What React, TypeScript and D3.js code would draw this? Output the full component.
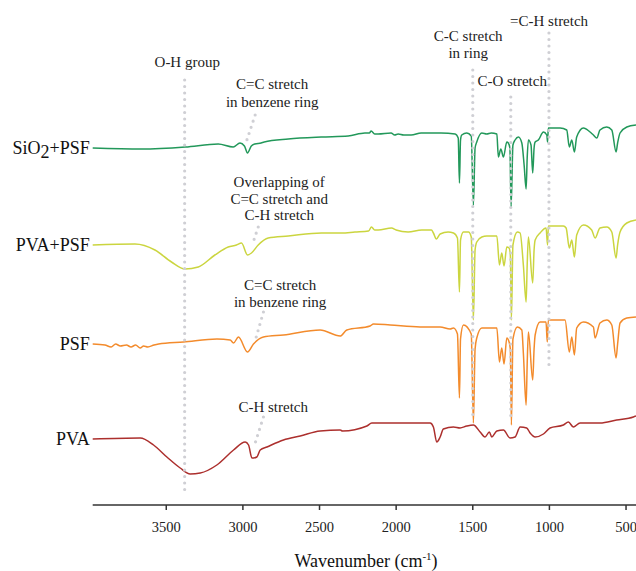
import * as d3 from "d3";

const WIDTH = 636;
const HEIGHT = 571;
const FONT = "'Liberation Serif', 'Times New Roman', serif";

// spectra: [wavenumber, transmittance shift from the trace start]
const SIO2_PSF: [number, number][] = [
  [3980, 0], [3663, -1], [3376, 1], [3161, 4], [3063, 1], [3019, 5], [2990, 2], [2970, -5],
  [2945, 2], [2922, 4], [2881, 5], [2861, 6], [2704, 9], [2489, 11], [2313, 12], [2204, 15],
  [2175, 15], [2163, 17], [2140, 14], [2117, 14], [2033, 15], [2010, 13], [1987, 14], [1950, 13],
  [1902, 13], [1837, 15], [1707, 15], [1615, 14],
  [1595, 10], [1587, -35], [1580, 8], [1572, 13], [1539, 15], [1510, 12], [1496, -57], [1485, 0],
  [1474, 6], [1441, 15], [1409, 14], [1380, 15], [1343, 14], [1333, -9], [1317, -1], [1300, -9],
  [1278, 6], [1268, 5], [1258, 0], [1250, -59], [1238, 3], [1224, 8], [1202, 11], [1180, 5],
  [1165, -17], [1152, -41], [1145, -10], [1137, 8], [1120, 3], [1109, -25], [1100, 0], [1093, 6],
  [1072, 8], [1039, 16], [1017, 13], [1012, 6], [1007, 20], [930, 20], [887, 18], [870, 1],
  [854, 8], [837, -4], [822, 11], [778, 20], [735, 16], [713, 13], [691, 10], [670, 18],
  [626, 21], [593, 18], [565, -4], [555, 5], [539, 15], [495, 21], [435, 23],
];

const PVA_PSF: [number, number][] = [
  [3980, 0], [3704, 1], [3574, -5], [3466, -17], [3378, -24], [3291, -22], [3183, -10], [3096, -2],
  [3042, 0], [3009, 2], [2970, -10], [2944, -8], [2900, 0], [2835, 7], [2704, 9], [2487, 12],
  [2357, 12], [2269, 13], [2180, 14], [2161, 18], [2140, 15], [2117, 15], [2030, 17], [2000, 15],
  [1922, 13], [1833, 15], [1770, 15],
  [1757, 12], [1737, 6], [1713, 11], [1661, 13], [1626, 12], [1600, 7], [1587, -47], [1580, 5],
  [1561, 13], [1528, 13], [1510, 8], [1496, -75], [1485, -5], [1474, 3], [1441, 8], [1409, 9],
  [1343, 9], [1326, -20], [1311, -8], [1296, -21], [1278, -2], [1263, -3], [1255, -10], [1248, -75],
  [1238, 0], [1209, 13], [1191, 12], [1170, -20], [1152, -57], [1145, -20], [1137, 8], [1109, -38],
  [1100, -5], [1093, 5], [1061, 12], [1022, 17], [1012, 0], [1007, 19], [909, 19], [891, 17],
  [870, -3], [854, 5], [837, -12], [822, 10], [778, 20], [724, 15], [702, 7], [670, 17],
  [626, 18], [593, 13], [565, -13], [555, 0], [539, 13], [495, 22], [435, 25],
];

const PSF: [number, number][] = [
  [3980, 0], [3900, -1], [3860, -3], [3830, 0], [3800, -2], [3760, -1], [3730, -3], [3700, -1],
  [3670, -4], [3648, -2], [3620, -3], [3580, -1], [3550, 0], [3387, 2],
  [3169, 5], [3083, 4], [3061, 1], [3029, 7], [2970, -8], [2931, 0], [2866, 7], [2735, 9],
  [2496, 14], [2365, 8], [2322, 14], [2170, 18], [2148, 20], [2039, 19], [1844, 17], [1713, 17],
  [1648, 15], [1626, 16], [1600, 10], [1587, -54], [1580, 5], [1561, 19], [1510, 10], [1496, -79],
  [1485, -5], [1474, 6], [1441, 16], [1409, 16], [1343, 16], [1326, -18], [1311, -4], [1296, -20],
  [1278, 6], [1263, 2], [1255, -5], [1248, -81], [1238, 5], [1209, 17], [1180, 14], [1170, -9],
  [1152, -61], [1145, -20], [1137, 12], [1109, -36], [1100, -5], [1093, 9], [1061, 22], [1022, 22],
  [1014, 2], [1007, 24], [898, 24], [870, -8], [854, 7], [837, -11], [822, 16], [778, 22],
  [713, 17], [702, 6], [670, 21], [626, 24], [593, 19], [565, -14], [555, 0], [539, 21],
  [495, 26], [435, 27],
];

const PVA: [number, number][] = [
  [3980, 0], [3670, 1], [3583, -6], [3496, -18], [3409, -29], [3344, -35], [3278, -34], [3170, -26],
  [3061, -11], [2985, -3], [2963, -6], [2941, -19], [2930, -19], [2909, -18], [2887, -11], [2843, -8],
  [2735, -1], [2626, 3], [2496, 8], [2365, 9], [2350, 8], [2191, 13], [2159, 16], [2018, 16],
  [1778, 16], [1757, 12], [1735, -3], [1713, 2], [1692, 10], [1626, 12], [1583, 11], [1539, 13],
  [1496, 14], [1452, 7], [1420, 2], [1392, 7], [1376, 2], [1343, 8], [1300, 9], [1257, 1],
  [1224, 2], [1191, 12], [1148, 11], [1126, 6], [1093, 2], [1039, 5], [996, 11], [909, 14],
  [876, 17], [844, 12], [800, 16], [670, 16], [561, 19], [452, 22], [435, 23],
];

const SERIES_NAMES = ["SiO2+PSF", "PVA+PSF", "PSF", "PVA"];
const SERIES_DATA = [SIO2_PSF, PVA_PSF, PSF, PVA];
const SERIES_OFFSETS = [357, 260, 161, 66];
const SERIES_COLORS = ["#22985a", "#cbd53f", "#f38b2c", "#ac2f2d"];

const X_TICKS = [3500, 3000, 2500, 2000, 1500, 1000, 500];

// dotted guide lines: [wn1, v1, wn2, v2]
const GUIDES: [number, number, number, number][] = [
  [3380, 425, 3380, 15],
  [1500, 435, 1500, 85],
  [1252, 408, 1252, 85],
  [1003, 472, 1003, 140],
  [2920, 390, 2974, 365],
  [2900, 278, 2939, 260],
  [2866, 193, 2913, 168],
  [2866, 88, 2920, 62],
];

// annotation text: [wn center, v baseline, text]
const NOTES: [number, number, string][] = [
  [3363, 438, "O-H group"],
  [2809, 416, "C=C stretch"],
  [2809, 398, "in benzene ring"],
  [2763, 318, "Overlapping of"],
  [2763, 301, "C=C stretch and"],
  [2763, 285, "C-H stretch"],
  [2757, 215, "C=C stretch"],
  [2757, 198, "in benzene ring"],
  [2802, 93, "C-H stretch"],
  [1530, 464, "C-C stretch"],
  [1530, 447, "in ring"],
  [1243, 419, "C-O stretch"],
  [1002, 479, "=C-H stretch"],
];

export default function App() {
  const x = d3.scaleLinear().domain([3980, 435]).range([92.7, 636]);
  const y = d3.scaleLinear().domain([0, 480]).range([505, 25]);
  const axisY = y(0);

  const paths = SERIES_DATA.map((data, i) =>
    d3
      .line<[number, number]>()
      .x((d) => x(d[0]))
      .y((d) => y(d[1] + SERIES_OFFSETS[i]))
      .curve(d3.curveMonotoneX)(data.slice().sort((a, b) => b[0] - a[0]))
  );

  return (
    <svg
      width={WIDTH}
      height={HEIGHT}
      style={{ position: "absolute", left: 0, top: 0, background: "#fff", fontFamily: FONT }}
    >
      {paths.map((p, i) => (
        <path key={i} d={p || ""} fill="none" stroke={SERIES_COLORS[i]} strokeWidth={1.5} />
      ))}

      {GUIDES.map((g, i) => (
        <line
          key={i}
          x1={x(g[0])}
          y1={y(g[1])}
          x2={x(g[2])}
          y2={y(g[3])}
          stroke="#cfcfd4"
          strokeWidth={3.2}
          strokeDasharray="0 6.5"
          strokeLinecap="round"
        />
      ))}

      {NOTES.map((n, i) => (
        <text key={i} x={x(n[0])} y={y(n[1])} textAnchor="middle" fontSize={15} fill="#222">
          {n[2]}
        </text>
      ))}

      {SERIES_NAMES.map((name, i) => (
        <text
          key={name}
          x={x(3980) - 3}
          y={y(SERIES_OFFSETS[i]) + 6}
          textAnchor="end"
          fontSize={18}
          fill="#111"
        >
          {name === "SiO2+PSF" ? (
            <>
              SiO<tspan dy={4}>2</tspan>
              <tspan dy={-4}>+PSF</tspan>
            </>
          ) : (
            name
          )}
        </text>
      ))}

      {/* x axis */}
      <line x1={x(3980)} x2={WIDTH} y1={axisY} y2={axisY} stroke="#333" strokeWidth={1.5} />
      {X_TICKS.map((t) => (
        <g key={t} transform={`translate(${x(t)},${axisY})`}>
          <line y2={5} stroke="#333" strokeWidth={1.5} />
          <text y={27} textAnchor="middle" fontSize={14.5} fill="#222">
            {t}
          </text>
        </g>
      ))}
      <text x={366} y={567} textAnchor="middle" fontSize={18} fill="#111">
        Wavenumber (cm
        <tspan dy={-7} fontSize={11}>-1</tspan>
        <tspan dy={7}>)</tspan>
      </text>
    </svg>
  );
}
